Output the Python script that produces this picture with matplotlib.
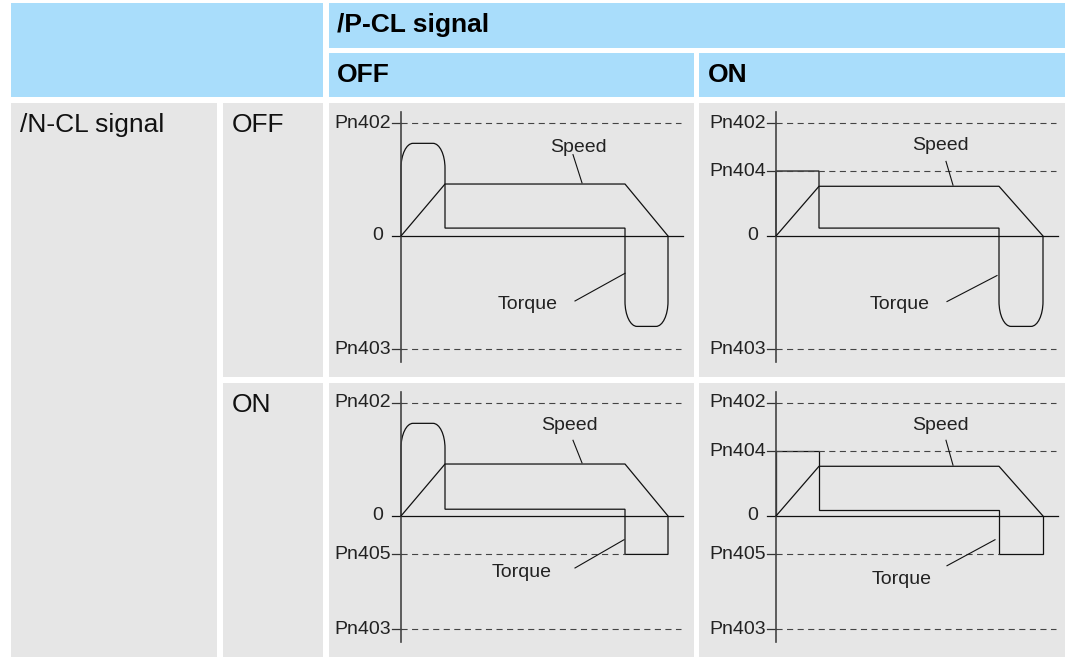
import matplotlib.pyplot as plt
from matplotlib.path import Path
from matplotlib.patches import PathPatch, Rectangle

plt.rcParams['font.family'] = ['Liberation Sans', 'DejaVu Sans']

# ---- data ----
header_title = "/P-CL signal"
row_title = "/N-CL signal"
col_labels = ["OFF", "ON"]          # /P-CL state per column
row_labels = ["OFF", "ON"]          # /N-CL state per row

# time points of the move (accel end, decel start, stop), per column
t_accel = [44, 43]
t_decel = [224, 223]
t_stop = [267, 267]

# levels, scaled so that Pn402 = 1 and Pn403 = -1
pn402 = 1.0
pn403 = -1.0
pn404 = 0.575
pn405 = -0.34
speed_level = [[0.46, 0.44], [0.46, 0.44]]
torque_peak = 0.82        # free forward torque (not clamped)
torque_neg_peak = -0.80   # free reverse torque (not clamped)
torque_run = [[0.07, 0.07], [0.06, 0.05]]

# label anchor spots (t, level) for "Speed" / "Torque" and their leaders
speed_text = [[(177, 0.78), (164, 0.80)], [(168, 0.80), (164, 0.80)]]
speed_lead = [[((172, 0.72), (181, 0.47)), ((170, 0.66), (177, 0.45))],
              [((172, 0.67), (181, 0.47)), ((170, 0.67), (177, 0.45))]]
torque_text = [[(127, -0.61), (124, -0.61)], [(121, -0.50), (126, -0.56)]]
torque_lead = [[((174, -0.575), (224, -0.33)), ((171, -0.58), (221, -0.35))],
               [((174, -0.46), (223, -0.21)), ((171, -0.44), (219, -0.21))]]

# ---- layout (pixels) ----
W, H = 1070, 657
BLUE = '#a9ddfb'
GREY = '#e6e6e6'
col_x = [(329, 694), (699, 1065)]
row_y = [(103, 377), (383, 657)]
axis_x = [401, 776]
zero_y = [236, 516]
YPX = 113.0   # pixels per level unit

fig = plt.figure(figsize=(W / 100, H / 100), dpi=100)
bg = fig.add_axes([0, 0, 1, 1])
bg.set_xlim(0, W)
bg.set_ylim(H, 0)
bg.axis('off')


def cell(x0, y0, x1, y1, color):
    bg.add_patch(Rectangle((x0, y0), x1 - x0, y1 - y0, facecolor=color, edgecolor='none'))


cell(11, 3, 323, 97, BLUE)
cell(329, 3, 1065, 48, BLUE)
for (x0, x1) in col_x:
    cell(x0, 53, x1, 97, BLUE)
cell(11, 103, 217, 657, GREY)
for (y0, y1) in row_y:
    cell(223, y0, 323, y1, GREY)
    for (x0, x1) in col_x:
        cell(x0, y0, x1, y1, GREY)

HEAD = dict(fontsize=19, va='center', ha='left')
bg.text(337, 25, header_title, fontweight='bold', **HEAD)
bg.text(337, 75, col_labels[0], fontweight='bold', **HEAD)
bg.text(708, 75, col_labels[1], fontweight='bold', **HEAD)
bg.text(20, 125, row_title, color='#111', **HEAD)
bg.text(232, 125, row_labels[0], color='#111', **HEAD)
bg.text(232, 405, row_labels[1], color='#111', **HEAD)


def torque_path(t1, t2, t3, top, run, bottom, round_top, round_bot):
    rx, ry, k = 12, 0.22, 0.55
    v = [(0, 0)]
    c = [Path.MOVETO]
    if round_top:
        v += [(0, top - ry), (0, top - ry * (1 - k)), (rx * (1 - k), top), (rx, top),
              (t1 - rx, top), (t1 - rx * (1 - k), top), (t1, top - ry * (1 - k)), (t1, top - ry)]
        c += [Path.LINETO] + [Path.CURVE4] * 3 + [Path.LINETO] + [Path.CURVE4] * 3
    else:
        v += [(0, top), (t1, top)]
        c += [Path.LINETO, Path.LINETO]
    v += [(t1, run), (t2, run)]
    c += [Path.LINETO, Path.LINETO]
    if round_bot:
        v += [(t2, bottom + ry), (t2, bottom + ry * (1 - k)), (t2 + rx * (1 - k), bottom), (t2 + rx, bottom),
              (t3 - rx, bottom), (t3 - rx * (1 - k), bottom), (t3, bottom + ry * (1 - k)), (t3, bottom + ry)]
        c += [Path.LINETO] + [Path.CURVE4] * 3 + [Path.LINETO] + [Path.CURVE4] * 3
    else:
        v += [(t2, bottom), (t3, bottom)]
        c += [Path.LINETO, Path.LINETO]
    v += [(t3, 0)]
    c += [Path.LINETO]
    return Path(v, c)


LAB = dict(fontsize=14, color='#222')
for r in range(2):
    for c in range(2):
        x0, x1 = col_x[c]
        y0, y1 = row_y[r]
        ax = fig.add_axes([x0 / W, 1 - y1 / H, (x1 - x0) / W, (y1 - y0) / H])
        ax.axis('off')
        ax.set_xlim(x0 - axis_x[c], x1 - axis_x[c])
        ax.set_ylim((zero_y[r] - y1) / YPX, (zero_y[r] - y0) / YPX)

        t1, t2, t3 = t_accel[c], t_decel[c], t_stop[c]

        # reference levels
        levels = [(pn402, "Pn402", 280), (pn403, "Pn403", 280)]
        if c == 1:
            levels.append((pn404, "Pn404", 280))
        if r == 1:
            levels.append((pn405, "Pn405", t2))
        for lv, name, tend in levels:
            ax.plot([0, tend], [lv, lv], color='#444', lw=0.8, ls=(0, (5.5, 4)))
            ax.plot([-9, 0], [lv, lv], color='#333', lw=0.9)
            ax.text(-10, lv, name, ha='right', va='center', **LAB)
        ax.text(-18, 0, "0", ha='right', va='center', **LAB)

        # axes
        ax.plot([-9, 282], [0, 0], color='#111', lw=0.9)
        ax.plot([0, 0], [-1.115, 1.10], color='#444', lw=1.2)

        # speed
        sp = speed_level[r][c]
        ax.plot([0, t1, t2, t3], [0, sp, sp, 0], color='#111', lw=0.9)

        # torque
        top = pn404 if c == 1 else torque_peak
        bot = pn405 if r == 1 else torque_neg_peak
        path = torque_path(t1, t2, t3, top, torque_run[r][c], bot, c == 0, r == 0)
        ax.add_patch(PathPatch(path, facecolor='none', edgecolor='#111', lw=0.9))

        # labels
        ax.text(*speed_text[r][c], "Speed", ha='center', va='center', **LAB)
        (a, b) = speed_lead[r][c]
        ax.plot([a[0], b[0]], [a[1], b[1]], color='#111', lw=0.8)
        ax.text(*torque_text[r][c], "Torque", ha='center', va='center', **LAB)
        (a, b) = torque_lead[r][c]
        ax.plot([a[0], b[0]], [a[1], b[1]], color='#111', lw=0.8)

fig.savefig('out.png', dpi=100)
